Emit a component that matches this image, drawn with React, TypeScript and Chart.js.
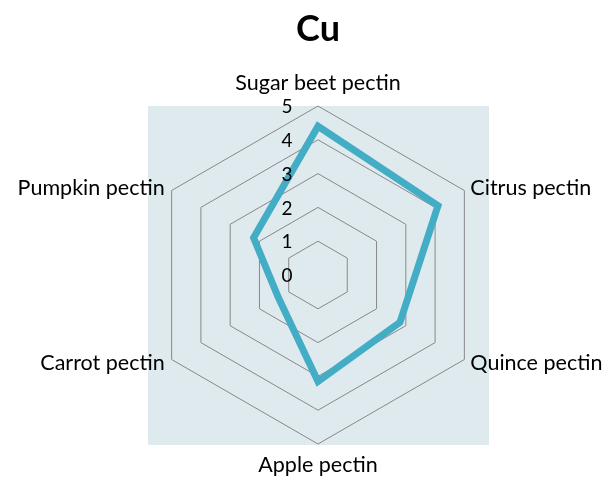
import React, { useEffect, useRef } from "react";
import { Chart, registerables } from "chart.js";

Chart.register(...registerables);

const categories = [
  "Sugar beet pectin",
  "Citrus pectin",
  "Quince pectin",
  "Apple pectin",
  "Carrot pectin",
  "Pumpkin pectin",
];
const cuValues = [4.4, 4.1, 2.8, 3.15, 1.35, 2.2];
const tickValues = [0, 1, 2, 3, 4, 5];
const chartTitle = "Cu";

const FONT = "Lato, 'Open Sans', sans-serif";

const decorPlugin = {
  id: "decor",
  beforeDraw(chart: any) {
    const { ctx, chartArea } = chart;
    ctx.save();
    ctx.fillStyle = "#ffffff";
    ctx.fillRect(0, 0, chart.width, chart.height);
    ctx.fillStyle = "#dfeaee";
    ctx.fillRect(chartArea.left, chartArea.top, chartArea.right - chartArea.left, chartArea.bottom - chartArea.top);
    ctx.restore();
  },
  afterDraw(chart: any) {
    const { ctx } = chart;
    const scale = chart.scales.r;
    ctx.save();
    // title
    ctx.fillStyle = "#000";
    ctx.font = `bold 36px ${FONT}`;
    ctx.textAlign = "center";
    ctx.textBaseline = "alphabetic";
    ctx.fillText(chartTitle, scale.xCenter, 41);

    // point labels
    ctx.font = `21.5px ${FONT}`;
    categories.forEach((label, i) => {
      const p = scale.getPointPosition(i, scale.drawingArea);
      const dx = p.x - scale.xCenter;
      const dy = p.y - scale.yCenter;
      if (Math.abs(dx) < 1) {
        ctx.textAlign = "center";
        ctx.fillText(label, p.x, dy < 0 ? p.y - 16 : p.y + 28);
      } else {
        ctx.textAlign = dx > 0 ? "left" : "right";
        const x = dx > 0 ? p.x + 6 : p.x - 7;
        ctx.fillText(label, x, dy < 0 ? p.y + 4 : p.y + 10);
      }
    });

    // tick labels
    ctx.font = `19px ${FONT}`;
    ctx.textAlign = "center";
    ctx.textBaseline = "middle";
    tickValues.forEach((v) => {
      const d = scale.getDistanceFromCenterForValue(v);
      ctx.fillText(String(v), scale.xCenter - 31, scale.yCenter - d + 1);
    });
    ctx.restore();
  },
};

export default function App() {
  const ref = useRef<HTMLCanvasElement | null>(null);
  useEffect(() => {
    if (!ref.current) return;
    const chart = new Chart(ref.current, {
      type: "radar",
      data: {
        labels: categories,
        datasets: [
          {
            label: chartTitle,
            data: cuValues,
            borderColor: "#44adc6",
            borderWidth: 7,
            borderJoinStyle: "miter",
            fill: false,
            pointRadius: 0,
            pointHoverRadius: 0,
            tension: 0,
          },
        ],
      },
      options: {
        responsive: false,
        animation: false,
        layout: { padding: { left: 148, right: 117, top: 106, bottom: 32 } },
        plugins: { legend: { display: false }, tooltip: { enabled: false }, title: { display: false } },
        scales: {
          r: {
            min: 0,
            max: 5,
            beginAtZero: true,
            ticks: { display: false, stepSize: 1 },
            grid: { color: "#888888", lineWidth: 1, circular: false },
            angleLines: { display: false },
            pointLabels: { display: false },
          },
        },
      },
      plugins: [decorPlugin],
    });
    return () => chart.destroy();
  }, []);
  return (
    <div style={{ position: "fixed", left: 0, top: 0, width: 606, height: 477, background: "#fff" }}>
      <canvas ref={ref} width={606} height={477} style={{ width: 606, height: 477, display: "block" }} />
    </div>
  );
}
